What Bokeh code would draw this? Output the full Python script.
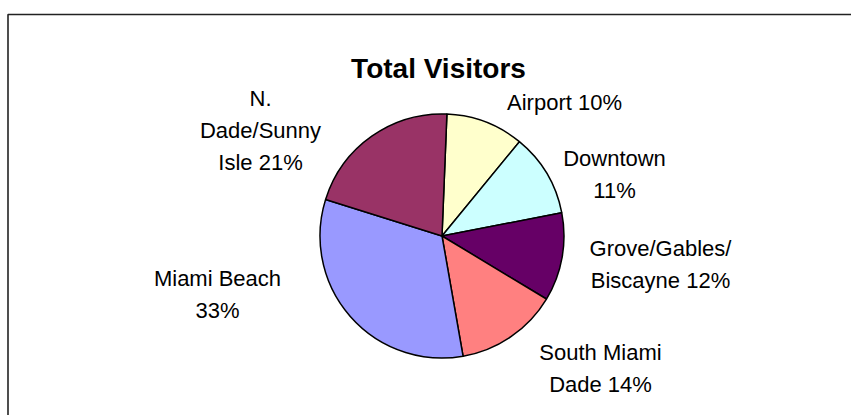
import math
from bokeh.plotting import figure
from bokeh.models import Range1d, ColumnDataSource
from bokeh.core.properties import value
from bokeh.embed import file_html
from bokeh.resources import INLINE

# ---- data ----
categories = ["Airport", "Downtown", "Grove/Gables/Biscayne", "South Miami Dade",
              "Miami Beach", "N. Dade/Sunny Isle"]
shares = [10.3, 11.0, 11.7, 13.6, 32.6, 20.8]
colors = ["#FFFFCC", "#CCFFFF", "#660066", "#FF8080", "#9999FF", "#993366"]
labels = ["Airport 10%", "Downtown\n11%", "Grove/Gables/\nBiscayne 12%",
          "South Miami\nDade 14%", "Miami Beach\n33%", "N.\nDade/Sunny\nIsle 21%"]
title_text = "Total Visitors"

# ---- layout (screen pixels of the picture) ----
W, H = 851, 415
def sx(x):
    return x
def sy(y):
    return H - y

cx, cy, r = sx(441.5), sy(235.5), 122
start_offset_deg = 2.3
label_pos = [(564, 102), (614, 158), (660, 248), (600, 352), (217, 278), (260, 98)]
line_gap = 32
FONT = "Liberation Sans"

p = figure(width=W, height=H, x_range=Range1d(0, W), y_range=Range1d(0, H),
           output_backend="svg", toolbar_location=None, min_border=0,
           x_axis_location=None, y_axis_location=None)
p.grid.visible = False
p.outline_line_color = None
p.background_fill_color = "white"
p.border_fill_color = "white"

# frame of the chart area
p.line(x=[sx(7.5), sx(7.5), W], y=[0, sy(14), sy(14)], line_color="#222222", line_width=1.6)

total = sum(shares)
starts, ends = [], []
cum = 0.0
for v in shares:
    s = math.pi / 2 - math.radians(start_offset_deg) - 2 * math.pi * cum / total
    e = s - 2 * math.pi * v / total
    starts.append(s)
    ends.append(e)
    cum += v

src = ColumnDataSource(dict(cat=categories, share=shares, start=starts, end=ends, color=colors))
p.wedge(x=cx, y=cy, radius=r, start_angle="start", end_angle="end", direction="clock",
        fill_color="color", line_color="black", line_width=1.5, source=src)

# labels
lx, ly, lt = [], [], []
for lab, (x, y) in zip(labels, label_pos):
    for i, line in enumerate(lab.split("\n")):
        lx.append(sx(x))
        ly.append(sy(y + i * line_gap))
        lt.append(line)
p.text(x=lx, y=ly, text=lt, text_font=value(FONT), text_font_size="22px",
       text_align="center", text_baseline="alphabetic", text_color="black")

p.text(x=[sx(438)], y=[sy(68)], text=[title_text], text_font=value(FONT),
       text_font_size="28px", text_font_style="bold", text_align="center",
       text_baseline="alphabetic", text_color="black")

open("out.html", "w").write(file_html(p, INLINE))
